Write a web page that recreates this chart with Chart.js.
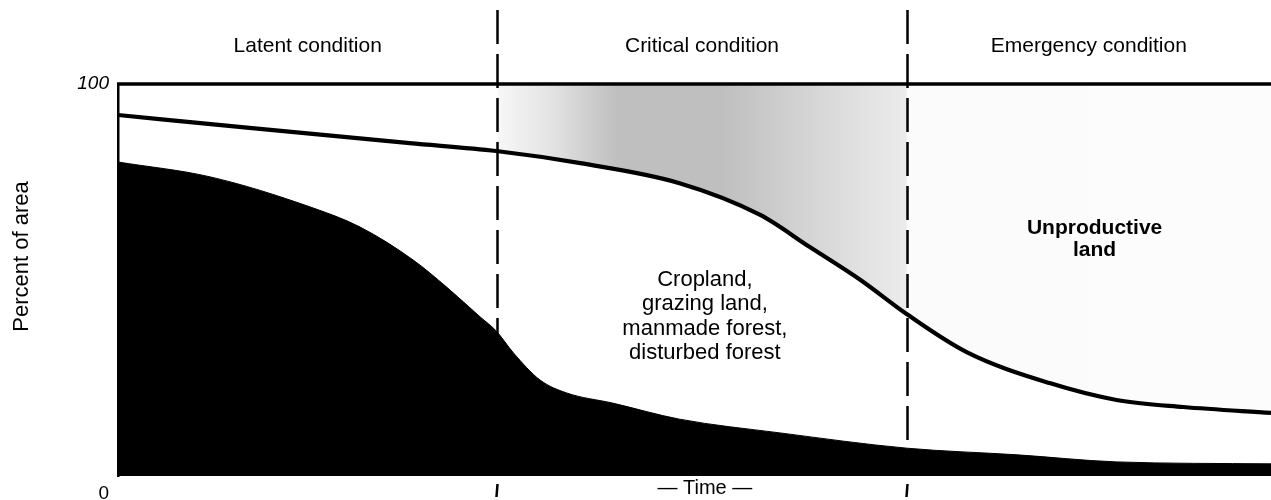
<!DOCTYPE html>
<html>
<head>
<meta charset="utf-8">
<script src="https://cdn.jsdelivr.net/npm/chart.js@4.4.1/dist/chart.umd.min.js"></script>
<style>
  html, body { margin: 0; padding: 0; background: #fff; }
  #wrap { width: 1271px; height: 500px; }
</style>
</head>
<body>
<div id="wrap"><canvas id="landChart" width="1271" height="500"></canvas></div>
<script>
// time axis runs 0..100 (arbitrary units), y is percent of area
const upperTime = [0, 11.4, 25.3, 32.8, 40.1, 48.7, 55.7, 60.0, 64.4, 68.4, 73.6, 80.8, 86.6, 92.4, 100];
const upperShare = [92.1, 88.8, 84.9, 82.9, 79.8, 74.7, 66.6, 58.4, 50.0, 41.3, 31.6, 23.7, 19.4, 17.6, 16.1];

const lowerTime = [0, 8.0, 16.7, 21.0, 25.6, 28.5, 31.4, 32.8, 34.3, 36.6, 38.9, 42.9, 48.7, 57.4, 68.4, 78.0, 86.6, 100];
const lowerShare = [80.1, 76.3, 68.6, 63.5, 55.1, 48.2, 40.6, 37.0, 31.4, 24.5, 21.2, 18.6, 14.5, 11.0, 7.1, 5.4, 3.6, 3.1];

const stageBounds = [32.9, 68.4];
const stageNames = ['Latent condition', 'Critical condition', 'Emergency condition'];
const yTicks = ['0', '100'];

const cropLabel = ['Cropland,', 'grazing land,', 'manmade forest,', 'disturbed forest'];
const barrenLabel = ['Unproductive', 'land'];

const FONT = '"Liberation Sans", Arial, Helvetica, sans-serif';

function toPoints(xs, ys) {
    return xs.map((x, i) => ({ x: x, y: ys[i] }));
}

function stippleFill(context) {
    const chart = context.chart;
    const area = chart.chartArea;
    if (!area) return 'rgba(0,0,0,0)';
    const xs = chart.scales.x;
    const a = xs.getPixelForValue(stageBounds[0]);
    const b = xs.getPixelForValue(stageBounds[1]);
    const w = area.right - area.left;
    const g = chart.ctx.createLinearGradient(area.left, 0, area.right, 0);
    const pos = px => Math.min(1, Math.max(0, (px - area.left) / w));
    g.addColorStop(0, 'rgba(0,0,0,0)');
    g.addColorStop(pos(a - 0.5), 'rgba(0,0,0,0)');
    g.addColorStop(pos(a + 0.5), 'rgba(0,0,0,0.03)');
    g.addColorStop(pos(a + 50), 'rgba(0,0,0,0.10)');
    g.addColorStop(pos(a + 120), 'rgba(0,0,0,0.25)');
    g.addColorStop(pos(a + 225), 'rgba(0,0,0,0.25)');
    g.addColorStop(pos(a + 290), 'rgba(0,0,0,0.19)');
    g.addColorStop(pos(b - 60), 'rgba(0,0,0,0.13)');
    g.addColorStop(pos(b - 1), 'rgba(0,0,0,0.08)');
    g.addColorStop(pos(b + 1), 'rgba(0,0,0,0.015)');
    g.addColorStop(1, 'rgba(0,0,0,0.012)');
    return g;
}

const decorPlugin = {
    id: 'decor',
    afterDatasetsDraw(chart) {
        const { ctx, chartArea: area, scales: { x, y } } = chart;
        ctx.save();

        // frame: heavy line at 100 %
        ctx.strokeStyle = '#000';
        ctx.lineWidth = 3.5;
        ctx.beginPath();
        ctx.moveTo(area.left - 1, y.getPixelForValue(100));
        ctx.lineTo(area.right, y.getPixelForValue(100));
        ctx.stroke();

        // stage boundaries
        ctx.lineWidth = 2.5;
        stageBounds.forEach(t => {
            const px = Math.round(x.getPixelForValue(t)) + 0.5;
            ctx.setLineDash([34, 10]);
            ctx.beginPath();
            ctx.moveTo(px, 10);
            ctx.lineTo(px, area.bottom);
            ctx.stroke();
            ctx.setLineDash([]);
            ctx.beginPath();
            ctx.moveTo(px, area.bottom + 8);
            ctx.lineTo(px - 1, area.bottom + 21);
            ctx.stroke();
        });

        ctx.fillStyle = '#000';
        ctx.textAlign = 'center';
        ctx.textBaseline = 'middle';

        // stage names
        ctx.font = '21px ' + FONT;
        const edges = [x.min, stageBounds[0], stageBounds[1], x.max];
        stageNames.forEach((name, i) => {
            const cx = x.getPixelForValue((edges[i] + edges[i + 1]) / 2);
            ctx.fillText(name, cx, area.top - 38);
        });

        // region labels
        ctx.font = '22px ' + FONT;
        cropLabel.forEach((line, i) => {
            ctx.fillText(line, x.getPixelForValue(50.9), y.getPixelForValue(50.0) + i * 24.3);
        });
        ctx.font = 'bold 21px ' + FONT;
        barrenLabel.forEach((line, i) => {
            ctx.fillText(line, x.getPixelForValue(84.7), y.getPixelForValue(63.3) + i * 22);
        });

        // axis texts
        ctx.font = '20px ' + FONT;
        ctx.fillText('\u2014 Time \u2014', x.getPixelForValue(50.9), area.bottom + 12);

        ctx.textAlign = 'right';
        ctx.font = 'italic 19px ' + FONT;
        ctx.fillText(yTicks[1], area.left - 9, y.getPixelForValue(100));
        ctx.font = '19px ' + FONT;
        ctx.fillText(yTicks[0], area.left - 9, y.getPixelForValue(0) + 18);

        ctx.save();
        ctx.translate(22, y.getPixelForValue(56));
        ctx.rotate(-Math.PI / 2);
        ctx.textAlign = 'center';
        ctx.font = '22px ' + FONT;
        ctx.fillText('Percent of area', 0, 0);
        ctx.restore();

        ctx.restore();
    }
};

const chart = new Chart(document.getElementById('landChart').getContext('2d'), {
    type: 'line',
    data: {
        datasets: [
            {
                label: 'Natural forest',
                data: toPoints(lowerTime, lowerShare),
                borderColor: '#000',
                borderWidth: 1,
                backgroundColor: '#000',
                fill: 'origin',
                pointRadius: 0,
                cubicInterpolationMode: 'monotone'
            },
            {
                label: 'Cropland / unproductive boundary',
                data: toPoints(upperTime, upperShare),
                borderColor: '#000',
                borderWidth: 4.2,
                backgroundColor: stippleFill,
                fill: 'end',
                pointRadius: 0,
                cubicInterpolationMode: 'monotone'
            }
        ]
    },
    options: {
        responsive: false,
        animation: false,
        devicePixelRatio: 1,
        layout: { padding: { top: 84, right: 0, bottom: 24, left: 0 } },
        plugins: {
            legend: { display: false },
            tooltip: { enabled: false }
        },
        scales: {
            x: {
                type: 'linear',
                min: 0,
                max: 100,
                display: false
            },
            y: {
                min: 0,
                max: 100,
                ticks: { display: false },
                grid: { display: false, drawTicks: false },
                border: { display: true, color: '#000', width: 2.5 },
                afterFit: scale => { scale.width = 118; }
            }
        }
    },
    plugins: [decorPlugin]
});
</script>
</body>
</html>
